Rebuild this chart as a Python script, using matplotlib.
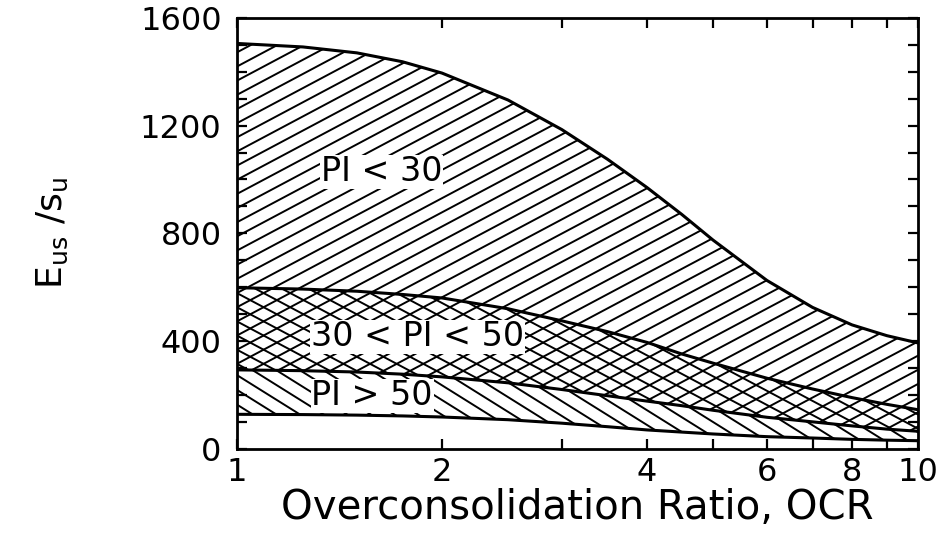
#!/usr/bin/env python

# modulus.py - undrained modulus ratio against overconsolidation ratio, banded by plasticity index

# configure
WIDTH   = 9.44
HEIGHT  = 5.33
DPI     = 100
SPACING = 12.5   # hatch spacing, pixels
OUTPUT  = 'out.png'

# require
import matplotlib
matplotlib.use( 'Agg' )
import matplotlib.pyplot as plt
from matplotlib.collections import LineCollection
from matplotlib.ticker import FixedLocator, NullFormatter
import numpy as np

# data; the four boundary curves of the three bands
ocr    = [ 1, 1.25, 1.5, 1.75, 2, 2.5, 3, 3.5, 4, 4.5, 5, 6, 7, 8, 9, 10 ]
upper  = [ 1505, 1492, 1470, 1437, 1395, 1295, 1185, 1075, 970, 870, 775, 625, 525, 460, 420, 393 ]
middle = [ 598, 593, 585, 573, 560, 520, 475, 435, 395, 352, 318, 262, 222, 190, 165, 145 ]
lower  = [ 293, 290, 285, 277, 267, 245, 220, 197, 177, 160, 143, 117, 100, 85, 73, 65 ]
bottom = [ 128, 127, 125, 122, 118, 108, 95, 82, 70, 62, 55, 45, 40, 35, 32, 30 ]

bands  = [ 'PI < 30', '30 < PI < 50', 'PI > 50' ]
spots  = [ ( 1.63, 1028 ), ( 1.84, 416 ), ( 1.58, 197 ) ]

xticks = [ 1, 2, 4, 6, 8, 10 ]
yticks = [ 0, 400, 800, 1200, 1600 ]

# define
def hatch( ax, x, y1, y2, angle, spacing=SPACING, lw=1.4 ) :

	# an invisible band used only as the clip path
	band = ax.fill_between( x, y1, y2, facecolor='none', edgecolor='none' )

	# parallel lines in pixel space, handed over in axes fractions
	w, h    = ax.bbox.width, ax.bbox.height
	t       = np.radians( angle )
	n       = np.array( [ -np.sin( t ), np.cos( t ) ] )
	u       = np.array( [ np.cos( t ), np.sin( t ) ] )
	corners = np.array( [ [ 0, 0 ], [ w, 0 ], [ 0, h ], [ w, h ] ] )
	c       = corners @ n
	L       = w + h
	segs    = []
	for k in np.arange( np.floor( c.min() / spacing ), np.ceil( c.max() / spacing ) + 1 ) :
		p = k * spacing * n
		segs.append( [ ( p - L * u ) / [ w, h ], ( p + L * u ) / [ w, h ] ] )

	lines = LineCollection( segs, colors='black', linewidths=lw, transform=ax.transAxes )
	lines.set_clip_path( band.get_paths()[ 0 ], ax.transData )
	ax.add_collection( lines )

# initialize
plt.rcParams[ 'font.family' ]      = 'DejaVu Sans'
plt.rcParams[ 'mathtext.default' ] = 'regular'

fig = plt.figure( figsize=( WIDTH, HEIGHT ), dpi=DPI )
ax  = fig.add_axes( [ 0.251, 0.158, 0.7215, 0.8085 ] )
ax.set_xscale( 'log' )
ax.set_xlim( 1, 10 )
ax.set_ylim( 0, 1600 )

# hatch the bands; the middle one is cross hatched
hatch( ax, ocr, middle, upper, 28 )
hatch( ax, ocr, lower, middle, 28 )
hatch( ax, ocr, lower, middle, -28 )
hatch( ax, ocr, bottom, lower, -32 )

# the boundary curves, kept above the label boxes
for curve in [ upper, middle, lower, bottom ] :
	ax.plot( ocr, curve, color='black', lw=2.2, solid_capstyle='butt', zorder=4 )

# band labels, knocked out of the hatching
for label, ( x, y ) in zip( bands, spots ) :
	ax.text( x, y, label, ha='center', va='center', fontsize=24, zorder=3,
		bbox=dict( facecolor='white', edgecolor='none', pad=0.5 ) )

# axes
ax.xaxis.set_major_locator( FixedLocator( xticks ) )
ax.xaxis.set_minor_locator( FixedLocator( [ 3, 5, 7, 9 ] ) )
ax.xaxis.set_minor_formatter( NullFormatter() )
ax.set_xticklabels( [ str( x ) for x in xticks ] )
ax.yaxis.set_major_locator( FixedLocator( yticks ) )
ax.yaxis.set_minor_locator( FixedLocator( np.arange( 100, 1600, 100 ) ) )
ax.tick_params( which='both', direction='in', top=True, right=True, width=1.6, labelsize=23 )
ax.tick_params( axis='x', which='both', length=7, pad=6 )
ax.tick_params( axis='y', which='both', length=7, pad=11 )
for spine in ax.spines.values() : spine.set_linewidth( 2 )

ax.set_xlabel( 'Overconsolidation Ratio, OCR', fontsize=29, labelpad=0 )
ax.set_ylabel( r'$E_{us}\ /s_u$', fontsize=26 )
ax.yaxis.set_label_coords( -0.245, 0.5 )

# output and done
fig.savefig( OUTPUT, dpi=DPI )
